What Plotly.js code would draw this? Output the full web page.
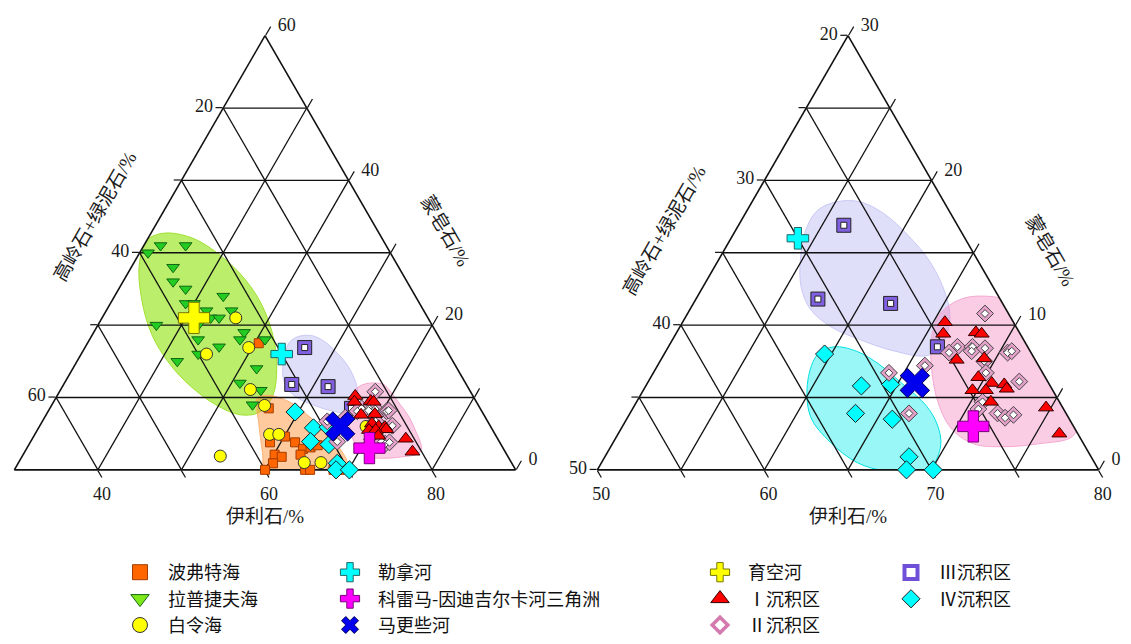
<!DOCTYPE html>
<html><head><meta charset="utf-8">
<script src="https://cdn.plot.ly/plotly-3.0.1.min.js"></script>
<style>html,body{margin:0;padding:0;background:#fff}#chart{width:1131px;height:644px}</style>
</head><body><div id="chart"></div>
<script>
// Components: S = 蒙皂石 (top), K = 高岭石+绿泥石 (bottom-left), I = 伊利石 (bottom-right), in %
const beaufortS = [17.5,8.5,3.8,4.6,3.8,2.9,2.1,1.8,0.9,0,2.1,3.1,3.4,0,0,0,0];
const beaufortK = [32,35.3,37.5,35.3,34.5,34,37.8,37.1,38.6,40,34.7,33,32,35.2,34.6,31.8,31];
const beaufortI = [50.5,56.2,58.7,60.1,61.7,63.1,60.1,61.1,60.5,60,63.2,63.9,64.6,64.8,65.4,68.2,69];

const laptevS = [30,31,31,28,26,25,24,23,23,22,22,21,21,20,20,19,18,18,17,18,16,15,14,12,11,9];
const laptevK = [39,37,34,37,38,37,33,38,37,36,33,36,35,38,43,33,39,34,37,31,40,43,34,37,35,37];
const laptevI = [31,32,35,35,36,38,43,39,40,42,45,43,44,42,37,48,43,48,46,51,44,42,52,51,54,54];

const beringS = [21,16.9,16,11.1,8.9,4.9,4.9,1.9,1,1,6];
const beringK = [33,33.5,39,36.2,35.6,37,35.9,44.4,34.8,32.8,24.9];
const beringI = [46,49.6,45,52.7,55.5,58.1,59.2,53.7,64.2,66.2,69.1];

const zone1S = [10.2,9.4,9.5,9.4,7.6,7.7,6.4,6.0,5.9,5.6,5.5,5.5,4.7,4.3,2.5];
const zone1K = [24.1,24.6,22.6,22.3,24.7,23.0,24.0,23.4,22.7,22.7,24.8,24.0,24.1,21.0,21.1];
const zone1I = [65.7,66.0,67.9,68.3,67.7,69.3,69.6,70.6,71.4,71.7,69.7,70.5,71.2,74.7,76.4];

const zone2S = [10.8,8.5,8.1,8.5,8.2,8.4,8.1,8.2,7.5,6.7,6.1,4.7,4.2,3.9,3.6,3.8,7.2,6.7,3.9];
const zone2K = [21.4,24.2,24.9,23.3,23.5,22.6,21.4,21.1,23.1,23.4,21.7,24.6,25.1,24.1,23.8,23.2,26.8,29.2,29.4];
const zone2I = [67.8,67.3,67.0,68.2,68.3,69.0,70.5,70.7,69.4,69.9,72.2,70.7,70.7,72.0,72.6,73.0,66.0,64.1,66.7];

const zone3S = [16.9,11.8,11.5,8.5];
const zone3K = [26.8,30.9,26.7,25.4];
const zone3I = [56.3,57.3,61.8,66.1];

const zone4S = [8.0,5.8,5.9,3.9,3.5,0.9,0,0];
const zone4K = [32.4,31.3,29.5,32.6,30.6,30.9,31.5,29.9];
const zone4I = [59.6,62.9,64.6,63.5,65.9,68.2,68.5,70.1];

// rivers: 勒拿河, 科雷马-因迪吉尔卡河三角洲, 马更些河, 育空河
const riverNames = ['勒拿河','科雷马-因迪吉尔卡河三角洲','马更些河','育空河'];
const riverS = [16,3,6,21];
const riverK = [30,26,28,38];
const riverI = [54,71,66,41];

// outlines of shaded fields
const laptevFieldS = [32.7,32.1,29.6,26.2,22.6,18.1,14.0,10.3,8.0,7.6,9.0,11.5,14.7,18.7,23.5,28.3,31.7,32.7];
const laptevFieldK = [35.8,32.8,30.5,29.2,29.0,29.9,31.6,33.9,36.6,39.1,41.4,43.1,44.1,44.2,43.0,40.9,38.3,35.8];
const laptevFieldI = [31.5,35.1,39.9,44.6,48.4,52.0,54.4,55.8,55.4,53.3,49.6,45.4,41.2,37.1,33.5,30.8,30.0,31.5];

const beaufortFieldS = [9.9,10.3,9.4,7.7,5.7,3.1,1.1,-0.5,-0.8,-0.8,-0.7,2.4,6.5,9.9];
const beaufortFieldK = [36.0,34.5,32.4,31.2,30.3,29.6,29.6,30.3,32.2,36.3,40.2,39.1,37.5,36.0];
const beaufortFieldI = [54.1,55.2,58.2,61.1,64.0,67.3,69.3,70.2,68.6,64.5,60.5,58.5,56.0,54.1];

const zone3FieldS = [18.5,18.5,17.7,16.2,14.3,12.1,10.4,8.7,7.9,8.2,9.0,9.9,11.1,12.6,14.5,16.5,17.9,18.5];
const zone3FieldK = [26.4,25.0,24.0,23.3,22.9,23.1,23.7,25.0,26.3,28.1,29.8,31.1,31.7,31.5,30.6,29.3,27.9,26.4];
const zone3FieldI = [55.0,56.4,58.3,60.5,62.8,64.8,65.9,66.3,65.8,63.7,61.2,59.0,57.2,55.9,54.9,54.2,54.2,55.0];

const zone12FieldS = [12.0,11.8,10.9,9.0,7.2,5.2,3.8,2.8,2.2,1.8,1.6,1.8,2.9,5.0,7.9,9.2,10.6,11.4,11.9,12.0];
const zone12FieldK = [20.8,19.9,19.6,19.3,19.1,19.3,19.5,19.9,20.6,22.7,24.8,26.6,27.4,27.2,26.1,25.4,24.3,23.2,22.0,20.8];
const zone12FieldI = [67.2,68.3,69.5,71.7,73.7,75.5,76.7,77.3,77.2,75.5,73.6,71.6,69.7,67.8,66.0,65.4,65.1,65.4,66.1,67.2];

const zone4FieldS = [8.5,8.0,6.2,3.7,1.9,0.5,-0.1,-0.3,0.1,1.7,3.1,4.4,6.0,7.3,8.2,8.5];
const zone4FieldK = [31.6,32.8,34.3,35.4,35.1,34.2,32.8,31.1,30.0,28.6,28.1,28.1,28.8,29.5,30.4,31.6];
const zone4FieldI = [59.9,59.2,59.5,60.9,63.0,65.3,67.3,69.2,69.9,69.7,68.8,67.5,65.2,63.2,61.4,59.9];

// axis tick values and labels (labels read along the edges of the reference)
const NB = '\u00a0';
const leftAVals = [10,20,30,40,50], leftAText = ['60','','40','','20'];
const leftBVals = [20,30,40,50,60], leftBText = ['80','','60','','40'];
const leftCVals = [30,40,50,60,70,80,90], leftCText = ['60','','40','','20','','0'];
const rightAVals = [0,5,10,15,20,25,30], rightAText = ['50','','40','','30','','20'];
const rightBVals = [20,25,30,35,40,45,50], rightBText = ['80','','70','','60','','50'];
const rightCVals = [50,55,60,65,70,75,80], rightCText = ['30','','20','','10','','0'];

const data = [];
function field(sub, S, K, I, fill, line) {
  data.push({type:'scatterternary', subplot:sub, mode:'lines', a:S, b:K, c:I,
    fill:'toself', fillcolor:fill, line:{color:line, width:1, shape:'spline', smoothing:1},
    showlegend:false, hoverinfo:'skip'});
}
function pts(sub, S, K, I, name, marker) {
  data.push({type:'scatterternary', subplot:sub, mode:'markers', a:S, b:K, c:I, name:name,
    marker:marker, showlegend:false, cliponaxis:false, hoverinfo:'skip'});
}
// legend-only entry (no point drawn)
function legendEntry(name, marker, legend) {
  data.push({type:'scatterternary', subplot:'ternary2', mode:'markers', a:[null], b:[null], c:[null],
    name:name, marker:marker, legend:legend, showlegend:true, hoverinfo:'skip'});
}

// shaded fields (bottom layers)
field('ternary', laptevFieldS, laptevFieldK, laptevFieldI, 'rgba(160,232,50,0.72)', '#a0e030');
field('ternary', beaufortFieldS, beaufortFieldK, beaufortFieldI, 'rgba(255,140,40,0.45)', '#ffb070');
field('ternary', zone3FieldS, zone3FieldK, zone3FieldI, 'rgba(150,150,240,0.30)', '#c8c8f4');
field('ternary', zone12FieldS, zone12FieldK, zone12FieldI, 'rgba(245,130,190,0.40)', '#f4a8d0');
field('ternary3', zone3FieldS, zone3FieldK, zone3FieldI, 'rgba(150,150,240,0.30)', '#c8c8f4');
field('ternary3', zone12FieldS, zone12FieldK, zone12FieldI, 'rgba(245,130,190,0.40)', '#f4a8d0');
field('ternary3', zone4FieldS, zone4FieldK, zone4FieldI, 'rgba(0,235,235,0.40)', '#00e0e0');

const mBeaufort = {symbol:'square', size:9, color:'#ff6600', line:{color:'#a33c00', width:1}};
const mLaptev = {symbol:'triangle-down', size:11, color:'#22cc22', line:{color:'#116611', width:1}};
const mBering = {symbol:'circle', size:12, color:'#ffff00', line:{color:'#333333', width:1}};
const mZone1 = {symbol:'triangle-up', size:13, color:'#ff0000', line:{color:'#330000', width:1}};
const mZone2 = {symbol:'diamond', size:13, color:'#e3a0c8', line:{color:'#444444', width:1}};
const mZone2in = {symbol:'diamond', size:6, color:'#ffffff', line:{color:'#444444', width:1}};
const mZone3 = {symbol:'square', size:14, color:'#8060e0', line:{color:'#222222', width:1}};
const mZone3in = {symbol:'square', size:6, color:'#ffffff', line:{color:'#222222', width:1}};
const mZone4 = {symbol:'diamond', size:14, color:'#00ffff', line:{color:'#222222', width:1}};
const mRivers = [
  {symbol:'cross', size:18, color:'#00ffff', line:{color:'#226666', width:1}},
  {symbol:'cross', size:26, color:'#ff00ff', line:{color:'#770077', width:1}},
  {symbol:'x', size:26, color:'#0000ee', line:{color:'#000055', width:1}},
  {symbol:'cross', size:26, color:'#ffff00', line:{color:'#777700', width:1}}
];

// left chart
pts('ternary2', beaufortS, beaufortK, beaufortI, '波弗特海', mBeaufort);
pts('ternary2', laptevS, laptevK, laptevI, '拉普捷夫海', mLaptev);
pts('ternary2', beringS, beringK, beringI, '白令海', mBering);
pts('ternary2', zone4S, zone4K, zone4I, 'Ⅳ沉积区', mZone4);
pts('ternary2', zone3S, zone3K, zone3I, 'Ⅲ沉积区', mZone3);
pts('ternary2', zone3S, zone3K, zone3I, 'Ⅲ沉积区', mZone3in);
pts('ternary2', zone2S, zone2K, zone2I, 'Ⅱ沉积区', mZone2);
pts('ternary2', zone2S, zone2K, zone2I, 'Ⅱ沉积区', mZone2in);
pts('ternary2', zone1S, zone1K, zone1I, 'Ⅰ沉积区', mZone1);
for (let r = 0; r < riverNames.length; r++) {
  pts('ternary2', [riverS[r]], [riverK[r]], [riverI[r]], riverNames[r], mRivers[r]);
}
// right chart
pts('ternary4', zone4S, zone4K, zone4I, 'Ⅳ沉积区', mZone4);
pts('ternary4', zone3S, zone3K, zone3I, 'Ⅲ沉积区', mZone3);
pts('ternary4', zone3S, zone3K, zone3I, 'Ⅲ沉积区', mZone3in);
pts('ternary4', zone2S, zone2K, zone2I, 'Ⅱ沉积区', mZone2);
pts('ternary4', zone2S, zone2K, zone2I, 'Ⅱ沉积区', mZone2in);
pts('ternary4', zone1S, zone1K, zone1I, 'Ⅰ沉积区', mZone1);
for (let r = 0; r < 3; r++) {
  pts('ternary4', [riverS[r]], [riverK[r]], [riverI[r]], riverNames[r], mRivers[r]);
}

// legend entries (larger symbols, as in the reference key)
function big(m, size, extra) { return Object.assign({}, m, {size:size}, extra || {}); }
legendEntry('波弗特海', big(mBeaufort, 15), 'legend');
legendEntry('拉普捷夫海', big(mLaptev, 16, {color:'#7fe81a'}), 'legend');
legendEntry('白令海', big(mBering, 15), 'legend');
legendEntry(riverNames[0], big(mRivers[0], 16), 'legend2');
legendEntry(riverNames[1], big(mRivers[1], 16), 'legend2');
legendEntry(riverNames[2], big(mRivers[2], 15), 'legend2');
legendEntry(riverNames[3], big(mRivers[3], 16), 'legend3');
legendEntry('Ⅰ沉积区', big(mZone1, 16), 'legend3');
legendEntry('Ⅱ沉积区', {symbol:'diamond-open', size:12, color:'#d47aae', line:{color:'#d47aae', width:3.5}}, 'legend3');
legendEntry('Ⅲ沉积区', {symbol:'square-open', size:13, color:'#7050d8', line:{color:'#7050d8', width:4}}, 'legend4');
legendEntry('Ⅳ沉积区', big(mZone4, 14), 'legend4');

const tickFont = {family:'Liberation Serif, Times New Roman, serif', size:18, color:'#1a1a1a'};
function ax(min, vals, texts, len) {
  return {min:min, tickmode:'array', tickvals:vals, ticktext:texts, ticks:'outside', ticklen:len,
    tickwidth:1.2, tickcolor:'#111', tickfont:tickFont, showline:true, linecolor:'#111', linewidth:1.6,
    showgrid:true, gridcolor:'#111', gridwidth:1.3, layer:'below traces', title:{text:''}};
}
function hiddenAx(min) {
  return {min:min, showline:false, showgrid:false, showticklabels:false, ticks:'', title:{text:''}};
}
function pad(arr) { return arr.map(t => t ? NB + t : t); }
const leftDom = {x:[10/1131, 520/1131], y:[1-478/644, 1-36.3/644]};
const rightDom = {x:[593/1131, 1103/1131], y:[1-478/644, 1-36.3/644]};

const legFont = {family:'Noto Sans CJK SC, sans-serif', size:18, color:'#111'};
function leg(x) {
  return {x:x, y:0.1245, xanchor:'left', yanchor:'top', orientation:'v', bgcolor:'rgba(0,0,0,0)',
    font:legFont, itemwidth:46, tracegroupgap:0, traceorder:'normal', itemclick:false, itemdoubleclick:false};
}
const titleFont = {family:'Liberation Serif, Noto Sans CJK SC, serif', size:19, color:'#1a1a1a'};
function ann(text, px, py, angle) {
  return {text:text, x:px/1131, y:1-py/644, xref:'paper', yref:'paper', showarrow:false,
    xanchor:'center', yanchor:'middle', textangle:angle, font:titleFont};
}

const layout = {
  width:1131, height:644, margin:{l:0, r:0, t:0, b:0}, paper_bgcolor:'#ffffff',
  showlegend:true,
  ternary:{sum:100, domain:leftDom, bgcolor:'#ffffff', aaxis:hiddenAx(0), baxis:hiddenAx(10), caxis:hiddenAx(30)},
  ternary2:{sum:100, domain:leftDom, bgcolor:'rgba(0,0,0,0)', aaxis:ax(0, leftAVals, leftAText, 7), baxis:ax(10, leftBVals, leftBText, 8), caxis:ax(30, leftCVals, pad(leftCText), 10)},
  ternary3:{sum:100, domain:rightDom, bgcolor:'#ffffff', aaxis:hiddenAx(0), baxis:hiddenAx(20), caxis:hiddenAx(50)},
  ternary4:{sum:100, domain:rightDom, bgcolor:'rgba(0,0,0,0)', aaxis:ax(0, rightAVals, rightAText, 7), baxis:ax(20, rightBVals, rightBText, 8), caxis:ax(50, rightCVals, pad(rightCText), 10)},
  legend:leg(112/1131), legend2:leg(322/1131), legend3:leg(692/1131), legend4:leg(883/1131),
  annotations:[
    ann('伊利石/%', 265, 525, 0), ann('伊利石/%', 848, 525, 0),
    ann('高岭石+绿泥石/%', 95, 220, -60), ann('高岭石+绿泥石/%', 664, 234, -60),
    ann('蒙皂石/%', 445, 235, 60), ann('蒙皂石/%', 1050, 255, 60)
  ]
};
Plotly.newPlot('chart', data, layout, {staticPlot:true});
</script></body></html>
